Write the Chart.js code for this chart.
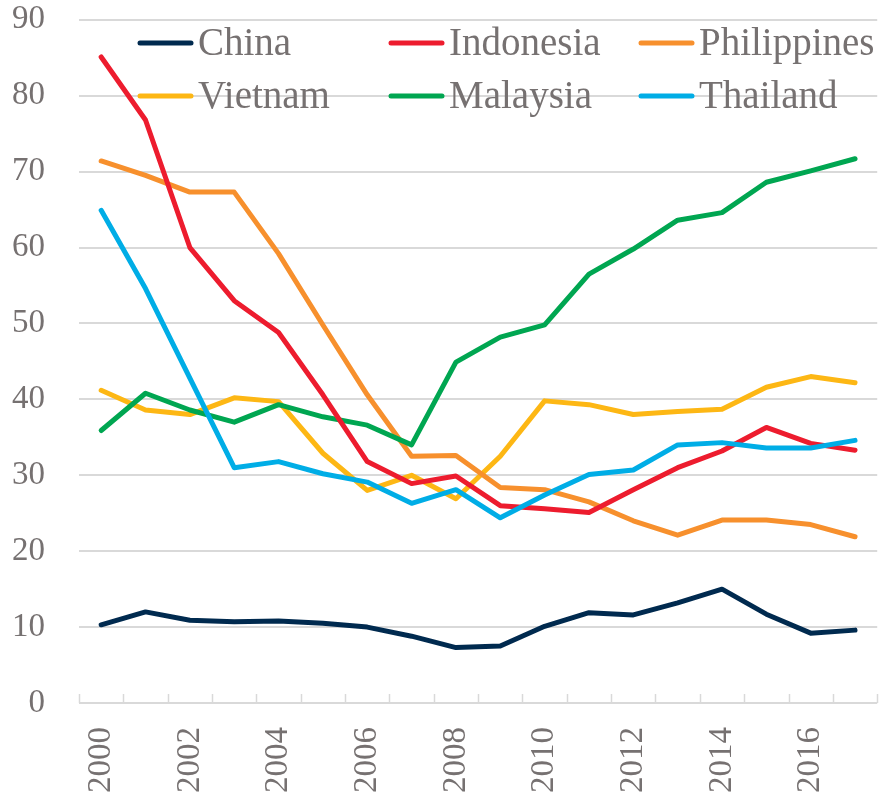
<!DOCTYPE html>
<html>
<head>
<meta charset="utf-8">
<script src="https://cdn.jsdelivr.net/npm/chart.js@4"></script>
<style>
  html, body { margin: 0; padding: 0; background: #ffffff; }
  #wrap { width: 895px; height: 800px; }
</style>
</head>
<body>
<div id="wrap"><canvas id="c" width="895" height="800"></canvas></div>
<script>
const years = ['2000','2001','2002','2003','2004','2005','2006','2007','2008','2009','2010','2011','2012','2013','2014','2015','2016','2017'];
const yTicks = [0,10,20,30,40,50,60,70,80,90];

const china       = [10.3,12.0,10.9,10.7,10.8,10.5,10.0,8.8,7.3,7.5,10.1,11.9,11.6,13.2,15.0,11.7,9.2,9.6];
const indonesia   = [85.1,76.8,60.0,53.0,48.8,40.6,31.8,28.9,29.9,26.0,25.6,25.1,28.1,31.0,33.2,36.3,34.2,33.3];
const philippines = [71.4,69.5,67.3,67.3,59.2,49.8,40.6,32.5,32.6,28.4,28.1,26.5,24.0,22.1,24.1,24.1,23.5,21.9];
const vietnam     = [41.2,38.6,38.0,40.2,39.7,32.9,28.0,30.0,26.9,32.5,39.8,39.3,38.0,38.4,38.7,41.6,43.0,42.2];
const malaysia    = [35.9,40.8,38.6,37.0,39.3,37.7,36.6,34.0,44.9,48.2,49.8,56.5,59.8,63.6,64.6,68.6,70.1,71.7];
const thailand    = [64.9,54.6,42.8,31.0,31.8,30.2,29.1,26.3,28.1,24.4,27.4,30.1,30.7,34.0,34.3,33.6,33.6,34.6];

const seriesNames  = ['China','Indonesia','Philippines','Vietnam','Malaysia','Thailand'];
const seriesData   = [china, indonesia, philippines, vietnam, malaysia, thailand];
const seriesColors = ['#002A4F','#ED1C2E','#F7902D','#FDB714','#00A651','#00ADE6'];
const drawOrder    = [5,1,3,4,2,0];

const FONT = "'Liberation Serif', 'Times New Roman', serif";
const TEXT = '#767171';
const GRID = '#D9D9D9';
const CLEAR = 'rgba(0,0,0,0)';

const insideTicks = {
  id: 'insideTicks',
  beforeDatasetsDraw(chart) {
    const x = chart.scales.x, y = chart.scales.y;
    const ctx = chart.ctx;
    const step = x.getPixelForValue(1) - x.getPixelForValue(0);
    const base = y.getPixelForValue(0);
    ctx.save();
    ctx.strokeStyle = GRID;
    ctx.lineWidth = 1.5;
    ctx.beginPath();
    for (let i = 0; i <= years.length; i++) {
      const px = Math.round(x.getPixelForValue(i) - step / 2) + 0.5;
      ctx.moveTo(px, base);
      ctx.lineTo(px, base - 9);
    }
    ctx.stroke();
    ctx.restore();
  }
};

const gridLegend = {
  id: 'gridLegend',
  afterDatasetsDraw(chart) {
    const ctx = chart.ctx;
    const colX = [138, 389, 639];
    const rowY = [43, 96];
    ctx.save();
    ctx.font = '39px ' + FONT;
    ctx.textBaseline = 'alphabetic';
    ctx.textAlign = 'left';
    chart.data.datasets.forEach((ds, i) => {
      const cx = colX[i % 3];
      const cy = rowY[Math.floor(i / 3)];
      ctx.strokeStyle = ds.borderColor;
      ctx.lineWidth = 5;
      ctx.lineCap = 'round';
      ctx.beginPath();
      ctx.moveTo(cx + 2, cy);
      ctx.lineTo(cx + 53, cy);
      ctx.stroke();
      ctx.fillStyle = TEXT;
      ctx.fillText(ds.label, cx + 60, cy + 12);
    });
    ctx.restore();
  }
};

new Chart(document.getElementById('c'), {
  type: 'line',
  data: {
    labels: years,
    datasets: seriesNames.map((name, i) => ({
      label: name,
      data: seriesData[i],
      borderColor: seriesColors[i],
      backgroundColor: seriesColors[i],
      borderWidth: 5,
      pointRadius: 0,
      tension: 0,
      fill: false,
      order: drawOrder[i],
      borderCapStyle: 'round',
      borderJoinStyle: 'round'
    }))
  },
  options: {
    responsive: false,
    animation: false,
    devicePixelRatio: 1,
    layout: { padding: { left: 12, right: 13, top: 0, bottom: 7 } },
    plugins: {
      legend: { display: false },
      tooltip: { enabled: false },
      title: { display: false }
    },
    scales: {
      x: {
        type: 'category',
        offset: true,
        grid: { display: true, drawOnChartArea: false, drawTicks: true, tickLength: 24, color: CLEAR, tickColor: CLEAR, offset: true },
        border: { display: false },
        ticks: {
          autoSkip: false,
          maxRotation: 90,
          minRotation: 90,
          padding: 0,
          color: TEXT,
          font: { family: FONT, size: 33 },
          callback: function(v, i) { return i % 2 === 0 ? years[i] : ''; }
        }
      },
      y: {
        min: 0,
        max: 90,
        afterBuildTicks: (axis) => { axis.ticks = yTicks.map(v => ({ value: v })); },
        grid: { color: GRID, lineWidth: 2, drawTicks: true, tickLength: 34, tickColor: CLEAR },
        border: { display: false },
        ticks: {
          padding: 0,
          color: TEXT,
          font: { family: FONT, size: 33 }
        }
      }
    }
  },
  plugins: [insideTicks, gridLegend]
});
</script>
</body>
</html>
